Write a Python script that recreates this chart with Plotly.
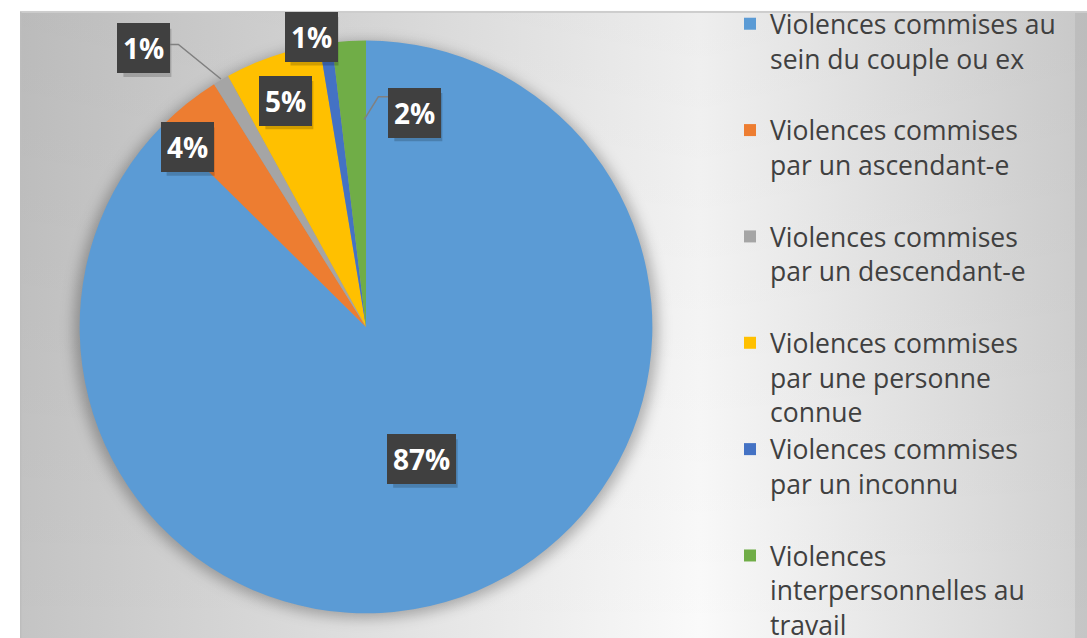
import base64, math
import plotly.graph_objects as go

# ---- data ----
categories = [
    "Violences commises au<br>sein du couple ou ex<br> ",
    "Violences commises<br>par un ascendant-e<br> ",
    "Violences commises<br>par un descendant-e<br> ",
    "Violences commises<br>par une personne<br>connue",
    "Violences commises<br>par un inconnu<br> ",
    "Violences<br>interpersonnelles au<br>travail",
]
values = [87.4, 3.7, 0.9, 5.4, 0.7, 1.9]
value_labels = ["87%", "4%", "1%", "5%", "1%", "2%"]
colors = ["#5B9BD5", "#ED7D31", "#A5A5A5", "#FFC000", "#4472C4", "#70AD47"]

# ---- layout geometry (pixels) ----
W, H = 1087, 638
CX, CY, R = 366, 323, 290
# label placement: (radius fraction, angle offset from slice middle in degrees)
label_place = [(0.5, 0.0), (0.88, -5.8), (1.238, -7.8), (0.837, -0.2), (1.031, -2.5), (0.767, 16.1)]

def to_paper(px, py):
    return px / W, 1 - py / H

def polar(frac, ang):
    a = math.radians(ang)
    return CX + frac * R * math.sin(a), CY - frac * R * math.cos(a)

svg = f'''<svg xmlns="http://www.w3.org/2000/svg" width="{W}" height="{H}" viewBox="0 0 {W} {H}">
<defs>
<linearGradient id="h" x1="20" y1="0" x2="{W}" y2="0" gradientUnits="userSpaceOnUse">
<stop offset="0" stop-color="#c4c4c4"/><stop offset="0.637" stop-color="#fafafa"/><stop offset="1" stop-color="#d2d2d2"/>
</linearGradient>
<linearGradient id="v" x1="0" y1="0" x2="0" y2="{H}" gradientUnits="userSpaceOnUse">
<stop offset="0" stop-color="#000" stop-opacity="0.05"/><stop offset="1" stop-color="#000" stop-opacity="0"/>
</linearGradient>
<filter id="b" x="-20%" y="-20%" width="140%" height="140%"><feGaussianBlur stdDeviation="7"/></filter>
</defs>
<rect width="{W}" height="{H}" fill="#ffffff"/>
<rect x="20" y="4" width="{W-20}" height="{H-4}" fill="url(#h)"/>
<rect x="20" y="4" width="{W-20}" height="{H-4}" fill="url(#v)"/>
<rect x="1075" y="4" width="12" height="{H-4}" fill="#000" fill-opacity="0.06"/>
<rect x="20" y="3" width="{W-20}" height="2" fill="#cdcdcd"/>
<rect x="20" y="4" width="1.5" height="{H-4}" fill="#bdbdbd"/>
<circle cx="{CX}" cy="{CY+3}" r="{R+2}" fill="#000" fill-opacity="0.28" filter="url(#b)"/>
</svg>'''
src = "data:image/svg+xml;base64," + base64.b64encode(svg.encode()).decode()

fig = go.Figure()
fig.add_trace(go.Pie(
    labels=categories, values=values, sort=False, direction="clockwise", rotation=0,
    marker=dict(colors=colors, line=dict(width=0)),
    textinfo="none", hoverinfo="label+percent",
    domain=dict(x=[(CX - R) / W, (CX + R) / W], y=[1 - (CY + R) / H, 1 - (CY - R) / H]),
))

total = sum(values)
annotations = []
shapes = []
cum = 0.0
for i, v in enumerate(values):
    a0 = cum / total * 360
    cum += v
    a1 = cum / total * 360
    mid = (a0 + a1) / 2
    frac, off = label_place[i]
    px, py = polar(frac, mid + off)
    x, y = to_paper(px, py)
    hw = 14 + 16.5 * len(value_labels[i])
    # soft shadow behind box
    sx0, sy0 = to_paper(px - hw / 2 + 3, py - 24 + 4)
    sx1, sy1 = to_paper(px + hw / 2 + 4, py + 24 + 5)
    shapes.append(dict(type="rect", xref="paper", yref="paper", x0=sx0, y0=sy0, x1=sx1, y1=sy1,
                       fillcolor="rgba(0,0,0,0.18)", line=dict(width=0), layer="above"))
    annotations.append(dict(
        x=x, y=y, xref="paper", yref="paper", xanchor="center", yanchor="middle",
        text=f"<b>{value_labels[i]}</b>", showarrow=False,
        font=dict(family="Open Sans", size=28, color="white"),
        bgcolor="#404040", borderpad=6, borderwidth=0,
    ))
    if frac > 1.1:  # outside label with leader line (gray slice)
        ex, ey = polar(1.0, mid + 0.4)
        bx = px + hw / 2
        elx = bx + 11
        ely = py - 4
        p = [to_paper(ex, ey), to_paper(elx, ely), to_paper(bx, ely)]
        shapes.append(dict(type="path", xref="paper", yref="paper",
                           path=f"M {p[0][0]},{p[0][1]} L {p[1][0]},{p[1][1]} L {p[2][0]},{p[2][1]}",
                           line=dict(color="#808080", width=1.5)))
    if off > 10:  # label moved over the blue slice (green slice)
        ex, ey = polar(0.724, a1 - 0.5)
        bx = px - hw / 2
        ely = py - 16
        elx = bx - 13
        p = [to_paper(ex, ey), to_paper(elx, ely), to_paper(bx, ely)]
        shapes.append(dict(type="path", xref="paper", yref="paper",
                           path=f"M {p[0][0]},{p[0][1]} L {p[1][0]},{p[1][1]} L {p[2][0]},{p[2][1]}",
                           line=dict(color="#808080", width=1.5)))

fig.update_layout(
    width=W, height=H, margin=dict(l=0, r=0, t=0, b=0),
    paper_bgcolor="white", plot_bgcolor="rgba(0,0,0,0)",
    images=[dict(source=src, xref="paper", yref="paper", x=0, y=1, sizex=1, sizey=1,
                 sizing="stretch", xanchor="left", yanchor="top", layer="below")],
    legend=dict(x=730 / W, y=1 + 8 / H, xanchor="left", yanchor="top", valign="top",
                maxheight=900,
                font=dict(family="Open Sans", size=26.5, color="#404040"),
                bgcolor="rgba(0,0,0,0)", traceorder="normal"),
    annotations=annotations, shapes=shapes,
)
fig.write_html("out.html", config={"displayModeBar": False},
               post_script="document.body.style.margin='0';document.body.style.overflow='hidden';")
